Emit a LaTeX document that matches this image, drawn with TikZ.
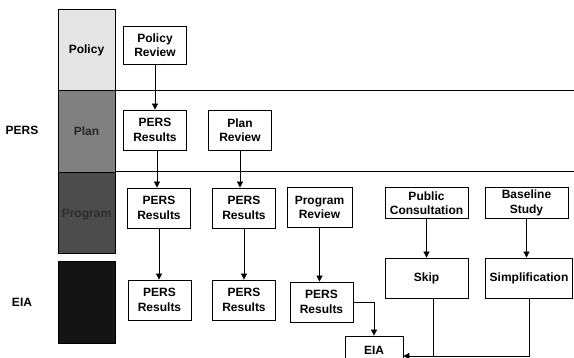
\documentclass[tikz,border=0pt]{standalone}
\usepackage{fontspec}
\setmainfont{Liberation Sans}
\usetikzlibrary{arrows.meta, calc}

\begin{document}
\begin{tikzpicture}[
        x=1pt, y=-1pt,
        >={Triangle[length=6pt,width=6pt]},
        line width=0.8pt,
        every node/.style={font=\fontsize{12}{14.5}\selectfont\bfseries, inner sep=1pt},
        box/.style={draw, fill=white, align=center, minimum width=63, minimum height=40},
        widebox/.style={box, minimum width=83},
        level/.style={draw, minimum width=57, minimum height=82}
    ]
        \clip (0,0) rectangle (574,358);

        % Stufen links
        \node [level, fill=black!10] (polcol) at (86.5,50) {Policy};
        \node [level, fill=black!50, text=black!85] (plancol) at (86.5,131.5) {Plan};
        \node [level, fill=black!70, minimum height=81] (progcol) at (86.5,212.5) {};
        \node [text=black!82] (progtxt) at (86.5,215) {Program};
        \node [level, fill=black!92] (eiacol) at (86.5,302) {};

        \node (pers) at (22,130) {PERS};
        \node (eia) at (22,302) {EIA};

        % Trennlinien
        \draw (plancol.north east) -- ++(460,0);
        \draw (progcol.north east) -- ++(460,0);

        % Kästen
        \node [box, minimum height=38] (polrev) at (155,45) {Policy\\Review};
        \node [box] (plres) at (155,130) {PERS\\Results};
        \node [box] (plrev) at (240,130) {Plan\\Review};
        \node [box] (prres1) at (159,208) {PERS\\Results};
        \node [box] (prres2) at (244,208) {PERS\\Results};
        \node [box, minimum width=65] (prrev) at (319.5,207.5) {Program\\Review};
        \node [widebox, minimum height=31] (pubcon) at (426.5,203) {Public\\Consultation};
        \node [widebox, minimum height=31] (basest) at (526.5,203) {Baseline\\Study};
        \node [widebox] (skip) at (426.5,278) {Skip};
        \node [widebox, minimum width=87] (simpl) at (529,278) {Simplification};
        \node [box] (eres1) at (159.5,300) {PERS\\Results};
        \node [box] (eres2) at (244,300) {PERS\\Results};
        \node [box] (eres3) at (321.5,302) {PERS\\Results};
        \node [box, minimum width=58, minimum height=28] (eiabox) at (374,350) {EIA};

        % Pfeile
        \coordinate (plout) at ($(plres.south)+(2,0)$);
        \coordinate (skipout) at ($(skip.south)+(7,0)$);
        \coordinate (eiain) at ($(eiabox.east)+(0,6)$);

        \draw[->] (polrev) -- (polrev |- plres.north);
        \draw[->] (plout) -- (plout |- prres1.north);
        \draw[->] (plrev) -- (plrev |- prres2.north);
        \draw[->] (prres1) -- (prres1 |- eres1.north);
        \draw[->] (prres2) -- (prres2 |- eres2.north);
        \draw[->] (prrev) -- (prrev |- eres3.north);
        \draw[->] (pubcon) -- (pubcon |- skip.north);
        \draw[->] (basest) -- (basest |- simpl.north);
        \draw[->] (eres3.east) -| (eiabox.north);
        \draw[->] (simpl.south) |- (eiain);
        \draw (skipout) -- (skipout |- eiain);
    \end{tikzpicture}
\end{document}
